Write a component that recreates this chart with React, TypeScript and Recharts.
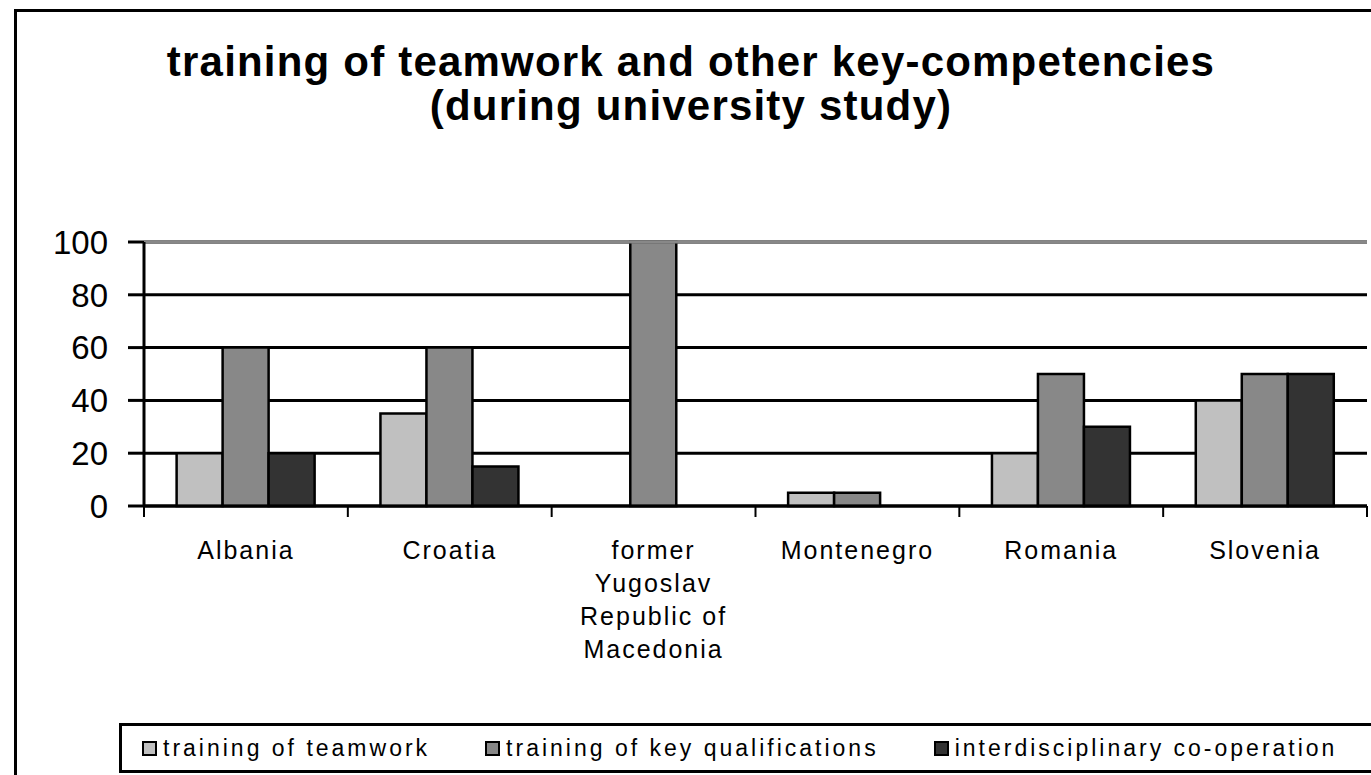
import React from 'react'
import { BarChart, Bar, XAxis, YAxis, CartesianGrid, Legend, ReferenceLine } from 'recharts'

const countries = [
  'Albania',
  'Croatia',
  'former\nYugoslav\nRepublic of\nMacedonia',
  'Montenegro',
  'Romania',
  'Slovenia',
]
const teamwork = [20, 35, 0, 5, 20, 40]
const keyQualifications = [60, 60, 100, 5, 50, 50]
const interdisciplinary = [20, 15, 0, 0, 30, 50]
const yTicks = [0, 20, 40, 60, 80, 100]
const seriesNames = ['training of teamwork', 'training of key qualifications', 'interdisciplinary co-operation']
const colors = ['#c0c0c0', '#888888', '#333333']

const data = countries.map((name, i) => ({
  name,
  teamwork: teamwork[i],
  keyQualifications: keyQualifications[i],
  interdisciplinary: interdisciplinary[i],
}))

const font = '"Liberation Sans", Arial, sans-serif'

// category label centred in its band, tick marks on the band edges
function CountryTick(props: any) {
  const { x, y, payload, index, visibleTicksCount, width } = props
  const half = payload.offset || width / visibleTicksCount / 2
  const lines = String(payload.value).split('\n')
  return (
    <g>
      <line x1={x - half} x2={x - half} y1={y} y2={y + 11} stroke="#000" strokeWidth={2} />
      {index === visibleTicksCount - 1 && (
        <line x1={x + half} x2={x + half} y1={y} y2={y + 11} stroke="#000" strokeWidth={2} />
      )}
      {lines.map((line, i) => (
        <text
          key={i}
          x={x}
          y={y + 53 + i * 33}
          textAnchor="middle"
          fontFamily={font}
          fontSize={25}
          letterSpacing={2}
          fill="#000"
        >
          {line}
        </text>
      ))}
    </g>
  )
}

function LegendBox({ payload }: any) {
  const items = [...(payload || [])].sort(
    (a: any, b: any) => seriesNames.indexOf(a.value) - seriesNames.indexOf(b.value)
  )
  return (
    <div
      style={{
        border: '3px solid #000',
        height: 50,
        display: 'flex',
        alignItems: 'center',
        paddingLeft: 20,
        fontFamily: font,
        fontSize: 23,
        letterSpacing: 3,
        whiteSpace: 'nowrap',
        boxSizing: 'border-box',
      }}
    >
      {items.map((entry: any, i: number) => (
        <div key={i} style={{ display: 'flex', alignItems: 'center', marginRight: 55 }}>
          <span
            style={{
              display: 'inline-block',
              width: 11,
              height: 11,
              background: entry.color,
              border: '2px solid #000',
              marginRight: 6,
            }}
          />
          <span>{entry.value}</span>
        </div>
      ))}
    </div>
  )
}

export default function App() {
  return (
    <div
      style={{
        position: 'fixed',
        left: 0,
        top: 0,
        width: 1371,
        height: 775,
        overflow: 'hidden',
        background: '#fff',
      }}
    >
      <div
        style={{
          position: 'absolute',
          left: 14,
          top: 9,
          width: 1420,
          height: 820,
          border: '3px solid #000',
        }}
      />
      <div
        style={{
          position: 'absolute',
          left: 0,
          top: 40,
          width: 1382,
          textAlign: 'center',
          fontFamily: font,
          fontWeight: 'bold',
          fontSize: 42,
          lineHeight: '44px',
          letterSpacing: 1.2,
        }}
      >
        <div>training of teamwork and other key-competencies</div>
        <div>(during university study)</div>
      </div>
      <div style={{ position: 'absolute', left: 0, top: 0 }}>
        <BarChart
          width={1371}
          height={775}
          data={data}
          margin={{ top: 242, right: 4, left: 0, bottom: 0 }}
          barCategoryGap="16%"
          barGap={0}
        >
          <CartesianGrid vertical={false} stroke="#000" strokeWidth={3} />
          <XAxis
            dataKey="name"
            height={269}
            interval={0}
            tickSize={0}
            tickMargin={0}
            tickLine={false}
            axisLine={{ stroke: '#000', strokeWidth: 3 }}
            tick={<CountryTick />}
          />
          <YAxis
            width={144}
            domain={[0, 100]}
            ticks={yTicks}
            tickSize={16}
            tickMargin={20}
            tickLine={{ stroke: '#000', strokeWidth: 3 }}
            axisLine={{ stroke: '#000', strokeWidth: 3 }}
            tick={{ fill: '#000', fontSize: 33, fontFamily: font }}
          />
          <YAxis
            yAxisId="frame"
            orientation="right"
            width={0}
            domain={[0, 100]}
            tick={false}
            tickLine={false}
            axisLine={{ stroke: '#888', strokeWidth: 3 }}
          />
          <ReferenceLine y={100} stroke="#888" strokeWidth={3} />
          <Bar dataKey="teamwork" name={seriesNames[0]} fill={colors[0]} stroke="#000" strokeWidth={2.5} isAnimationActive={false} />
          <Bar dataKey="keyQualifications" name={seriesNames[1]} fill={colors[1]} stroke="#000" strokeWidth={2.5} isAnimationActive={false} />
          <Bar dataKey="interdisciplinary" name={seriesNames[2]} fill={colors[2]} stroke="#000" strokeWidth={2.5} isAnimationActive={false} />
          <Legend
            layout="vertical"
            align="center"
            verticalAlign="middle"
            content={<LegendBox />}
            wrapperStyle={{ left: 119, top: 723, width: 1300 }}
          />
        </BarChart>
      </div>
    </div>
  )
}
